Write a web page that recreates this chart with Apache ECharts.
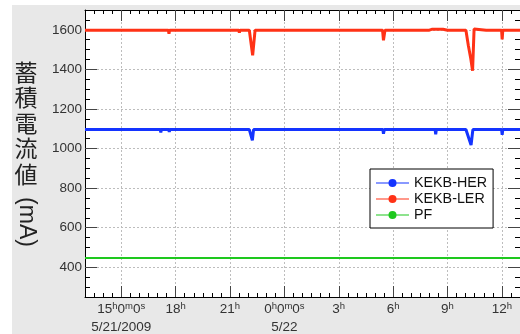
<!DOCTYPE html>
<html>
<head>
<meta charset="utf-8">
<script src="https://cdn.jsdelivr.net/npm/echarts@6/dist/echarts.min.js"></script>
<style>
  html, body { margin: 0; padding: 0; background: #fff; }
  #chart { width: 520px; height: 334px; }
</style>
</head>
<body>
<div id="chart"></div>
<script>
// times are 'day hh:mm' in May 2009
var herTimes = ['21 13:00', '21 15:14', '21 15:16', '21 15:18', '21 17:09', '21 17:11', '21 17:13', '21 17:37', '21 17:39', '21 17:41',
    '21 21:28', '21 21:30', '21 21:32', '21 22:04', '21 22:14', '21 22:18', '22 05:26', '22 05:28', '22 05:31',
    '22 08:19', '22 08:21', '22 08:23', '22 10:01', '22 10:18', '22 10:24', '22 11:59', '22 12:01', '22 12:03', '22 13:00'];
var herValues = [1096, 1096, 1090, 1096, 1096, 1082, 1096, 1096, 1085, 1096,
    1096, 1090, 1096, 1096, 1041, 1096, 1096, 1075, 1096,
    1096, 1072, 1096, 1096, 1018, 1096, 1096, 1069, 1096, 1096];

var lerTimes = ['21 13:00', '21 14:04', '21 14:06', '21 14:08', '21 15:14', '21 15:16', '21 15:18', '21 17:09', '21 17:11', '21 17:13',
    '21 17:36', '21 17:38', '21 17:40', '21 21:29', '21 21:31', '21 21:33', '21 22:04', '21 22:15', '21 22:23',
    '22 05:25', '22 05:28', '22 05:33', '22 05:38', '22 05:45', '22 08:00', '22 08:10', '22 08:45', '22 09:00',
    '22 10:01', '22 10:09', '22 10:17', '22 10:23', '22 10:28', '22 11:08', '22 11:10', '22 11:12',
    '22 11:59', '22 12:01', '22 12:03', '22 13:00'];
var lerValues = [1598, 1598, 1593, 1598, 1598, 1588, 1598, 1598, 1590, 1598,
    1598, 1580, 1598, 1598, 1585, 1598, 1598, 1471, 1598,
    1598, 1547, 1598, 1607, 1598, 1598, 1603, 1603, 1598,
    1598, 1521, 1455, 1393, 1604, 1598, 1590, 1598,
    1598, 1551, 1598, 1598];

var pfTimes = ['21 13:00', '22 10:18', '22 10:20', '22 10:22', '22 13:00'];
var pfValues = [447, 447, 443, 447, 447];

var seriesNames = ['KEKB-HER', 'KEKB-LER', 'PF'];
var seriesColors = ['#1434ff', '#ff3216', '#1ec81e'];

// x axis in hours from 5/21 0:00
var xMin = 13, xMax = 37;
var xMajorTicks = [15, 18, 21, 24, 27, 30, 33, 36];
var xTickLabels = ['15h0m0s\n5/21/2009', '18h', '21h', '0h0m0s\n5/22', '3h', '6h', '9h', '12h'];
var yMin = 250, yMax = 1700;
var yMajorTicks = [400, 600, 800, 1000, 1200, 1400, 1600];
var yTitle = '蓄積電流値';
var yUnit = '(mA)';

function toHours(s) {
    var parts = s.split(' ');
    var hm = parts[1].split(':');
    return (parseInt(parts[0]) - 21) * 24 + parseInt(hm[0]) + parseInt(hm[1]) / 60;
}

function pairs(times, values) {
    return times.map(function (t, i) { return [toHours(t), values[i]]; });
}

function richLabel(text) {
    return text.split('\n').map(function (line) {
        if (/[hms]/.test(line)) {
            return line.replace(/(\d+)([hms])/g, '{n|$1}{s|$2}');
        }
        return '{n|' + line + '}';
    }).join('\n');
}

var font = 'Liberation Sans';
var tickColor = '#000';
var majorColor = '#444';
var gridLine = { show: true, lineStyle: { color: '#bdbdbd', type: [2, 2], width: 1 } };

function minorX(pos) {
    return {
        type: 'value', position: pos, min: xMin, max: xMax, interval: 0.5,
        axisLine: { show: true, onZero: false, lineStyle: { color: '#000', width: 1 } },
        axisTick: { show: true, inside: true, length: 4, lineStyle: { color: tickColor } },
        axisLabel: { show: false },
        splitLine: { show: false }
    };
}

function majorX(pos, labels) {
    return {
        type: 'value', position: pos, min: xMin, max: xMax,
        axisLine: { show: false, onZero: false },
        axisTick: { show: true, inside: true, length: 11, customValues: xMajorTicks, lineStyle: { color: majorColor } },
        axisLabel: {
            show: labels,
            customValues: xMajorTicks,
            margin: 3,
            formatter: function (v) {
                return richLabel(xTickLabels[xMajorTicks.indexOf(v)]);
            },
            rich: {
                n: { fontSize: 13.5, fontFamily: font, color: '#333', lineHeight: 18 },
                s: { fontSize: 9.5, fontFamily: font, color: '#333', lineHeight: 18, verticalAlign: 'top', padding: [1, 0, 0, 0] }
            }
        },
        splitLine: labels ? gridLine : { show: false }
    };
}

function minorY(pos) {
    return {
        type: 'value', position: pos, min: yMin, max: yMax, interval: 50,
        axisLine: { show: true, onZero: false, lineStyle: { color: '#000', width: 1 } },
        axisTick: { show: true, inside: true, length: 5, lineStyle: { color: tickColor } },
        axisLabel: { show: false },
        splitLine: { show: false }
    };
}

function majorY(pos, labels) {
    return {
        type: 'value', position: pos, min: yMin, max: yMax,
        axisLine: { show: false, onZero: false },
        axisTick: { show: true, inside: true, length: 12, customValues: yMajorTicks, lineStyle: { color: majorColor } },
        axisLabel: {
            show: labels, customValues: yMajorTicks, margin: 3, fontSize: 13.5, fontFamily: font, color: '#333',
            formatter: function (v) { return String(v); }
        },
        splitLine: labels ? gridLine : { show: false }
    };
}

var chart = echarts.init(document.getElementById('chart'), null, { renderer: 'canvas' });

var series = [pairs(herTimes, herValues), pairs(lerTimes, lerValues), pairs(pfTimes, pfValues)].map(function (d, i) {
    return {
        name: seriesNames[i],
        type: 'line',
        xAxisIndex: 0,
        yAxisIndex: 0,
        data: d,
        symbol: 'circle',
        showSymbol: false,
        color: seriesColors[i],
        lineStyle: { width: i === 2 ? 2 : 3, color: seriesColors[i] },
        z: 3
    };
});

chart.setOption({
    animation: false,
    backgroundColor: '#fff',
    grid: { left: 85, top: 10, right: -1, bottom: 34, show: true, backgroundColor: '#fff', borderWidth: 0 },
    xAxis: [minorX('bottom'), majorX('bottom', true), minorX('top'), majorX('top', false)],
    yAxis: [minorY('left'), majorY('left', true), minorY('right'), majorY('right', false)],
    legend: {
        orient: 'vertical',
        left: 370,
        top: 169,
        padding: [6, 6, 5, 5],
        itemGap: 0,
        itemWidth: 33,
        itemHeight: 10,
        backgroundColor: '#fff',
        borderColor: '#000',
        borderWidth: 1,
        textStyle: { fontSize: 14.3, fontFamily: font, color: '#111', lineHeight: 16 },
        data: seriesNames.map(function (n, i) {
            return { name: n, itemStyle: { color: seriesColors[i] }, lineStyle: { color: seriesColors[i], opacity: 0.5, width: 2 } };
        })
    },
    graphic: [
        { type: 'rect', z: -10, silent: true, shape: { x: 12, y: 5, width: 508, height: 329 }, style: { fill: '#e8e8e8' } },
        {
            type: 'text', x: 26, y: 123, z: 10,
            style: { text: yTitle.split('').join('\n'), align: 'center', verticalAlign: 'middle', fontSize: 23, lineHeight: 25.5, fontFamily: 'Noto Sans CJK JP', fill: '#222' }
        },
        {
            type: 'text', x: 26, y: 222, z: 10, rotation: -Math.PI / 2,
            style: { text: yUnit, align: 'center', verticalAlign: 'middle', fontSize: 23, fontFamily: font, fill: '#222' }
        }
    ],
    series: series
});
</script>
</body>
</html>
